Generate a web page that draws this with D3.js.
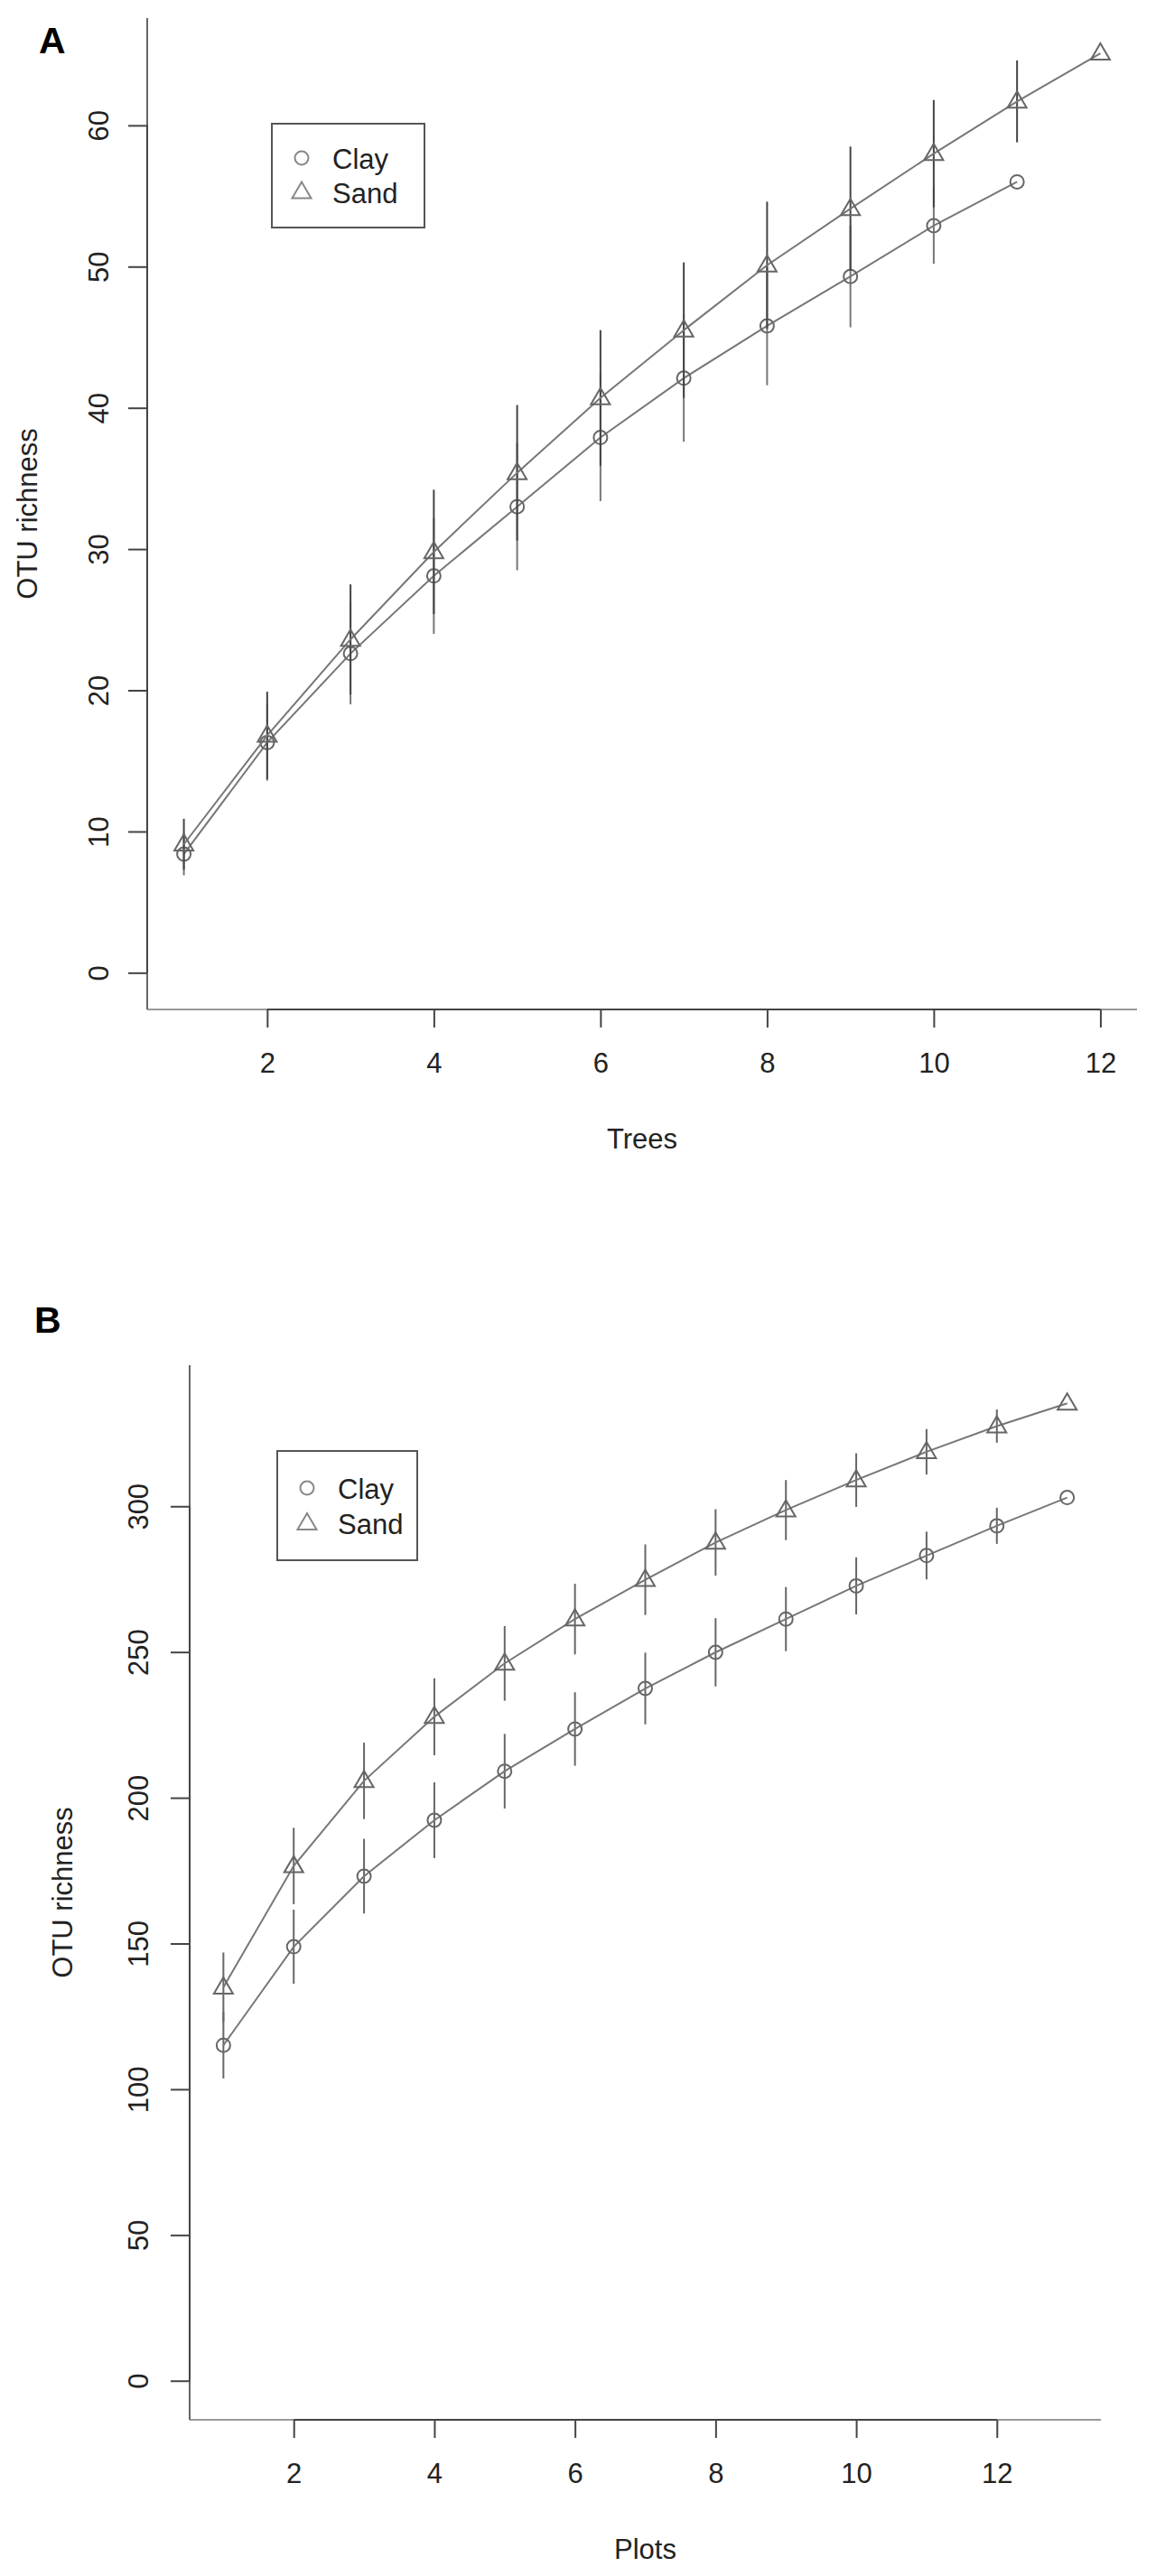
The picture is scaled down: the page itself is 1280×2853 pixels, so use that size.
<!DOCTYPE html>
<meta charset="utf-8">
<style>
  body { margin: 0; background: #fff; }
  svg { display: block; font-family: "Liberation Sans", Arial, sans-serif; }
  .tick text { font-size: 31px; fill: #222; }
  .tick line { stroke: #444; stroke-width: 2; }
</style>

<body>
  <script src="https://d3js.org/d3.v7.min.js"></script>
  <script>
    // panel A: richness against number of trees
    var treesX = [1, 2, 3, 4, 5, 6, 7, 8, 9, 10, 11, 12];
    var clayTreesMean = [8.4, 16.3, 22.6, 28.1, 33.0, 37.9, 42.1, 45.8, 49.3, 52.9, 56.0];
    var clayTreesSd = [1.5, 2.7, 3.6, 4.1, 4.5, 4.5, 4.5, 4.2, 3.6, 2.7, 0];
    var sandTreesMean = [9.1, 16.8, 23.6, 29.8, 35.4, 40.7, 45.5, 50.1, 54.1, 58.0, 61.7, 65.1];
    var sandTreesSd = [1.8, 3.1, 3.9, 4.4, 4.8, 4.8, 4.8, 4.5, 4.4, 3.8, 2.9, 0];
    var treesXTicks = [2, 4, 6, 8, 10, 12];
    var treesYTicks = [0, 10, 20, 30, 40, 50, 60];

    // panel B: richness against number of plots
    var plotsX = [1, 2, 3, 4, 5, 6, 7, 8, 9, 10, 11, 12, 13];
    var clayPlotsMean = [115.1, 148.9, 173.1, 192.3, 209.1, 223.6, 237.5, 249.9, 261.3, 272.7, 283.1, 293.3, 303.0];
    var clayPlotsSd = [11.4, 12.7, 12.8, 13.0, 12.8, 12.6, 12.3, 11.7, 11.0, 9.8, 8.2, 6.2, 0];
    var sandPlotsMean = [135.0, 176.6, 205.8, 227.8, 246.1, 261.3, 274.8, 287.6, 298.7, 309.0, 318.7, 327.5, 335.3];
    var sandPlotsSd = [11.9, 13.1, 13.1, 13.2, 12.8, 12.1, 12.1, 11.4, 10.3, 9.2, 7.8, 5.7, 0];
    var plotsXTicks = [2, 4, 6, 8, 10, 12];
    var plotsYTicks = [0, 50, 100, 150, 200, 250, 300];

    var seriesNames = ["Clay", "Sand"];

    var svg = d3.select("body").append("svg")
      .attr("width", 1280)
      .attr("height", 2853);

    // R style axis limits: data range padded by 4% each side
    function rRange(lo, hi) {
      var d = (hi - lo) * 0.04;
      return [lo - d, hi + d];
    }

    function marker(g, kind, cx, cy, color) {
      if (kind === "circle") {
        g.append("circle")
          .attr("cx", cx).attr("cy", cy).attr("r", 7.5)
          .attr("fill", "none").attr("stroke", color).attr("stroke-width", 2);
      } else {
        g.append("path")
          .attr("d", "M" + cx + "," + (cy - 11) + " L" + (cx + 10.5) + "," + (cy + 7) +
            " L" + (cx - 10.5) + "," + (cy + 7) + " Z")
          .attr("fill", "none").attr("stroke", color).attr("stroke-width", 2);
      }
    }

    function drawPanel(p) {
      var x = d3.scaleLinear().domain(rRange(d3.min(p.xs), d3.max(p.xs))).range([p.left, p.right]);
      var y = d3.scaleLinear().domain(rRange(0, p.ymax)).range([p.bottom, p.top]);
      var g = svg.append("g");

      // box lines (bty = "l")
      g.append("line").attr("x1", p.left).attr("x2", p.right).attr("y1", p.bottom).attr("y2", p.bottom)
        .attr("stroke", "#999").attr("stroke-width", 2);
      g.append("line").attr("x1", p.left).attr("x2", p.left).attr("y1", p.top).attr("y2", p.bottom)
        .attr("stroke", "#666").attr("stroke-width", 2);

      var xAxis = g.append("g")
        .attr("transform", "translate(0," + p.bottom + ")")
        .call(d3.axisBottom(x).tickValues(p.xTicks).tickSize(20).tickPadding(28).tickSizeOuter(0));
      xAxis.select(".domain").remove();
      g.append("line")
        .attr("x1", x(p.xTicks[0])).attr("x2", x(p.xTicks[p.xTicks.length - 1]))
        .attr("y1", p.bottom).attr("y2", p.bottom)
        .attr("stroke", "#444").attr("stroke-width", 2);

      var yAxis = g.append("g")
        .attr("transform", "translate(" + p.left + ",0)")
        .call(d3.axisLeft(y).tickValues(p.yTicks).tickSize(21).tickSizeOuter(0));
      yAxis.select(".domain").remove();
      yAxis.selectAll(".tick text")
        .attr("transform", "rotate(-90)")
        .attr("x", 0)
        .attr("y", -p.yLabelGap)
        .attr("dy", 0)
        .attr("text-anchor", "middle");
      g.append("line")
        .attr("x1", p.left).attr("x2", p.left)
        .attr("y1", y(p.yTicks[0])).attr("y2", y(p.yTicks[p.yTicks.length - 1]))
        .attr("stroke", "#444").attr("stroke-width", 2);

      // axis titles
      g.append("text")
        .attr("x", (p.left + p.right) / 2).attr("y", p.bottom + 154)
        .attr("text-anchor", "middle").attr("font-size", 31).attr("fill", "#222")
        .text(p.xlab);
      g.append("text")
        .attr("transform", "translate(" + (p.left - p.ylabGap) + "," + ((p.top + p.bottom) / 2) + ") rotate(-90)")
        .attr("text-anchor", "middle").attr("font-size", 31).attr("fill", "#222")
        .text("OTU richness");

      // panel letter
      g.append("text")
        .attr("x", p.letterX).attr("y", p.letterY)
        .attr("font-size", 41).attr("font-weight", "bold").attr("fill", "#000")
        .text(p.letter);

      var line = d3.line()
        .x(function (d) { return x(d.x); })
        .y(function (d) { return y(d.m); });

      p.series.forEach(function (s) {
        var pts = s.mean.map(function (m, i) {
          return { x: p.xs[i], m: m, sd: s.sd[i] };
        });
        // error bars
        g.selectAll(null)
          .data(pts.filter(function (d) { return d.sd > 0; }))
          .enter()
          .append("line")
          .attr("x1", function (d) { return x(d.x); })
          .attr("x2", function (d) { return x(d.x); })
          .attr("y1", function (d) { return y(d.m - d.sd); })
          .attr("y2", function (d) { return y(d.m + d.sd); })
          .attr("stroke", s.barColor)
          .attr("stroke-width", 2);

        g.append("path")
          .datum(pts)
          .attr("d", line)
          .attr("fill", "none")
          .attr("stroke", "#777")
          .attr("stroke-width", 2);

        pts.forEach(function (d) {
          marker(g, s.kind, x(d.x), y(d.m), "#666");
        });
      });

      // legend
      var lg = g.append("g");
      lg.append("rect")
        .attr("x", p.legend.x).attr("y", p.legend.y)
        .attr("width", p.legend.w).attr("height", p.legend.h)
        .attr("fill", "none").attr("stroke", "#555").attr("stroke-width", 2);
      seriesNames.forEach(function (name, i) {
        var cy = p.legend.y + p.legend.row0 + i * p.legend.rowGap;
        marker(lg, i === 0 ? "circle" : "triangle", p.legend.x + 33, cy, "#888");
        lg.append("text")
          .attr("x", p.legend.x + 67).attr("y", cy + 12)
          .attr("font-size", 31).attr("fill", "#222")
          .text(name);
      });
    }

    drawPanel({
      letter: "A", letterX: 43, letterY: 59,
      left: 163, right: 1259, top: 20, bottom: 1118,
      xs: treesX, ymax: 65,
      xTicks: treesXTicks, yTicks: treesYTicks,
      yLabelGap: 43, ylabGap: 122, xlab: "Trees",
      series: [
        { kind: "circle", mean: clayTreesMean, sd: clayTreesSd, barColor: "#777" },
        { kind: "triangle", mean: sandTreesMean, sd: sandTreesSd, barColor: "#444" }
      ],
      legend: { x: 301, y: 137, w: 169, h: 115, row0: 38, rowGap: 37.5 }
    });

    drawPanel({
      letter: "B", letterX: 38, letterY: 1476,
      left: 210, right: 1219, top: 1512, bottom: 2680,
      xs: plotsX, ymax: 335,
      xTicks: plotsXTicks, yTicks: plotsYTicks,
      yLabelGap: 46, ylabGap: 130, xlab: "Plots",
      series: [
        { kind: "circle", mean: clayPlotsMean, sd: clayPlotsSd, barColor: "#666" },
        { kind: "triangle", mean: sandPlotsMean, sd: sandPlotsSd, barColor: "#666" }
      ],
      legend: { x: 307, y: 1607, w: 155, h: 121, row0: 41, rowGap: 39 }
    });
  </script>
</body>
